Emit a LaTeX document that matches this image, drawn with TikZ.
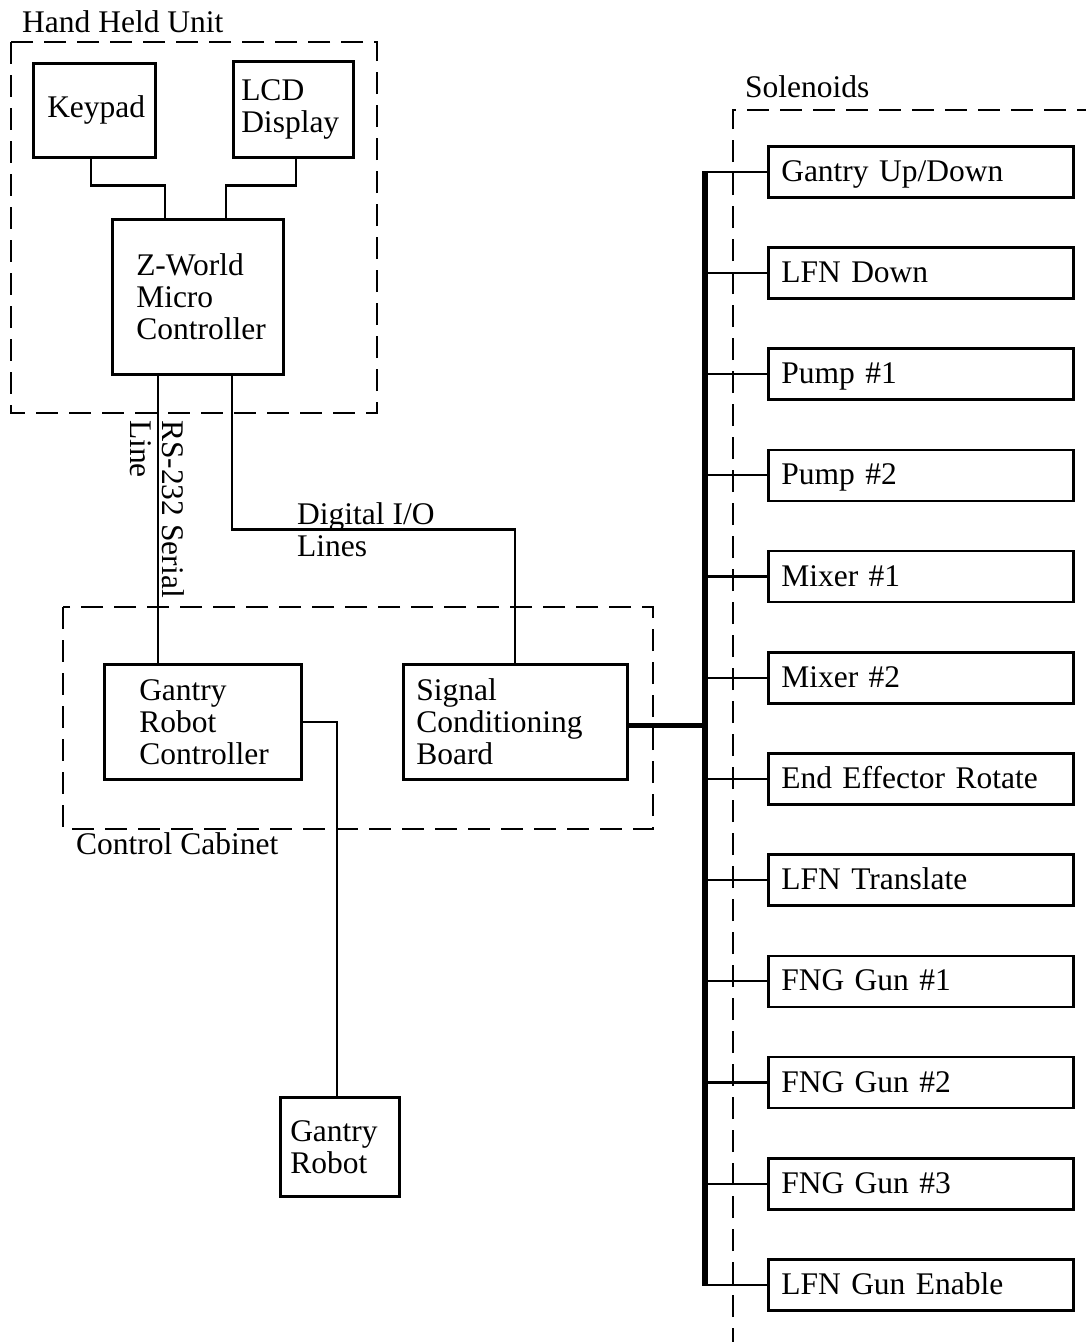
\documentclass[tikz,border=0pt]{standalone}
\usepackage{fontspec}
\setmainfont{Liberation Serif}
\begin{document}
\begin{tikzpicture}[x=1pt,y=-1pt,
  font=\fontsize{31.5}{32}\selectfont,
  box/.style={draw, line width=2.5pt, inner ysep=0pt, align=left, anchor=north west},
  sol/.style={box, minimum width=305pt, minimum height=51pt, text width=279pt, inner xsep=13pt, text height=22pt, text depth=3pt},
  dashbox/.style={draw, line width=2pt, dash pattern=on 22pt off 11pt},
  wire/.style={line width=2.2pt},
  busline/.style={line width=6pt},
  feed/.style={line width=5pt},
  lbl/.style={inner sep=0pt, anchor=base west}]
\useasboundingbox (0,0) rectangle (1085,1342);

% group frames
\draw[dashbox] (11,42) rectangle (377,413);
\node[lbl] (hhu) at (22,32) {Hand Held Unit};
\draw[dashbox] (63,607) rectangle (653,829);
\node[lbl] (cc) at (76,854) {Control Cabinet};
\draw[dashbox] (733,1350) -- (733,110) -- (1095,110);
\node[lbl] (solt) at (745,97) {Solenoids};

% hand held unit
\node[box, minimum width=122pt, minimum height=94pt, text width=94pt, inner xsep=14pt] (kp) at (32,62) {Keypad};
\node[box, minimum width=120pt, minimum height=96pt, text width=104pt, inner xsep=8pt] (lcd) at (232,60) {LCD\\Display};
\node[box, minimum width=171pt, minimum height=155pt, text width=123pt, inner xsep=24pt] (zw) at (111,218) {Z-World\\Micro\\Controller};

% control cabinet
\node[box, minimum width=197pt, minimum height=115pt, text width=127pt, inner xsep=35pt] (grc) at (103,663) {Gantry\\Robot\\Controller};
\node[box, minimum width=224pt, minimum height=115pt, text width=198pt, inner xsep=13pt] (scb) at (402,663) {Signal\\Conditioning\\Board};

% robot
\node[box, minimum width=119pt, minimum height=99pt, text width=99pt, inner xsep=10pt] (gr) at (279,1096) {Gantry\\Robot};

% solenoids
\node[sol] (s1) at (767,145) {Gantry Up/Down};
\node[sol] (s2) at (767,246.2) {LFN Down};
\node[sol] (s3) at (767,347.4) {Pump \#1};
\node[sol] (s4) at (767,448.6) {Pump \#2};
\node[sol] (s5) at (767,549.8) {Mixer \#1};
\node[sol] (s6) at (767,651) {Mixer \#2};
\node[sol] (s7) at (767,752.2) {End Effector Rotate};
\node[sol] (s8) at (767,853.4) {LFN Translate};
\node[sol] (s9) at (767,954.6) {FNG Gun \#1};
\node[sol] (s10) at (767,1055.8) {FNG Gun \#2};
\node[sol] (s11) at (767,1157) {FNG Gun \#3};
\node[sol] (s12) at (767,1258.2) {LFN Gun Enable};

% labels on lines
\node[lbl, rotate=-90, align=left] (rs) at (130,420) {RS-232 Serial\\Line};
\node[lbl, align=left] (dio) at (297,556) {Digital I/O\\Lines};

% connectors in hand held unit
\draw[wire] ([xshift=-3pt]kp.south) -- ++(0,27) -| ([xshift=-33pt]zw.north);
\draw[wire] ([xshift=3pt]lcd.south) -- ++(0,27) -| ([xshift=28pt]zw.north);
\draw[wire] ([xshift=-39.5pt]zw.south) -- ([xshift=-39.5pt]zw.south |- grc.north);
\draw[wire] ([xshift=34pt]zw.south) -- ++(0,154) -| (scb.north);
\draw[wire] (grc.east) -| ([xshift=-3pt]gr.north);

% solenoid bus
\coordinate (busx) at (705,0);
\draw[busline] ([yshift=1pt]s1.west -| busx) -- ([yshift=-1pt]s12.west -| busx);
\draw[feed] ([yshift=-4pt]scb.east) -- ([yshift=-4pt]scb.east -| busx);
\foreach \s in {s1,s2,s3,s4,s5,s6,s7,s8,s9,s10,s11,s12}
  \draw[wire] (\s.west -| busx) -- (\s.west);
\end{tikzpicture}
\end{document}
